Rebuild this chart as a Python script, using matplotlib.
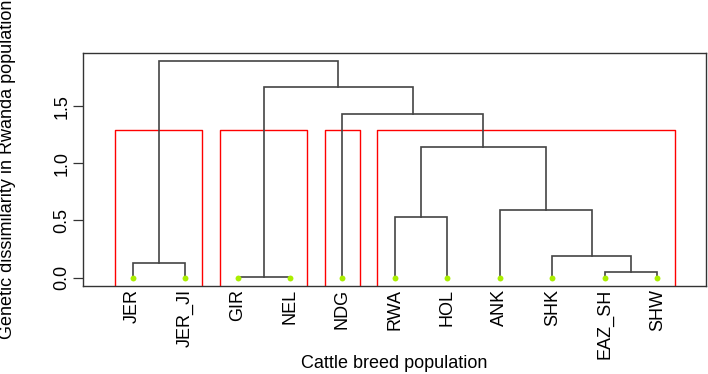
import numpy as np
import matplotlib
matplotlib.use("Agg")
import matplotlib.pyplot as plt

plt.rcParams['font.family'] = ['Liberation Sans', 'DejaVu Sans']

# leaf labels in plotted order
labels = ["JER", "JER_JI", "GIR", "NEL", "NDG", "RWA", "HOL",
          "ANK", "SHK", "EAZ_SH", "SHW"]

# hclust style merges: negative = leaf index (1-based), positive = earlier merge
merge = [(-10, -11), (-3, -4), (-1, -2), (-9, 1), (-6, -7),
         (-8, 4), (5, 6), (-5, 7), (2, 8), (3, 9)]
height = [0.05, 0.003, 0.13, 0.19, 0.53, 0.594, 1.145, 1.434, 1.667, 1.892]

# cluster groups for the red rectangles (leaf ranges, 1-based) and cut height
groups = [(1, 2), (3, 4), (5, 5), (6, 11)]
cut_h = 1.29

fig = plt.figure(figsize=(7.08, 3.74), dpi=100)
ax = fig.add_axes([83 / 708, 1 - 286 / 374, (706 - 83) / 708, (286 - 53) / 374])

line_col = "#444444"
node_x = {}
node_y = {}


def pos(i):
    if i < 0:
        return float(-i), 0.0
    return node_x[i], node_y[i]


for k, (a, b) in enumerate(merge, start=1):
    h = height[k - 1]
    xa, ya = pos(a)
    xb, yb = pos(b)
    ax.plot([xa, xa, xb, xb], [ya, h, h, yb], color=line_col, lw=1.2,
            solid_joinstyle="miter", zorder=2)
    node_x[k] = (xa + xb) / 2
    node_y[k] = h

xs = np.arange(1, len(labels) + 1)
ax.scatter(xs, np.zeros(len(xs)), s=18, marker="o", color="#aaee00",
           zorder=3, linewidths=0)

ymin = -0.073
for g0, g1 in groups:
    ax.plot([g0 - 0.34, g0 - 0.34, g1 + 0.33, g1 + 0.33],
            [ymin, cut_h, cut_h, ymin], color="red", lw=1.0, zorder=1)

ax.set_xlim(0.053, 11.93)
ax.set_ylim(ymin, 1.964)

ax.set_yticks([0.0, 0.5, 1.0, 1.5])
ax.set_yticklabels(["0.0", "0.5", "1.0", "1.5"], rotation=90, va="center",
                   fontsize=13)
ax.tick_params(axis="y", length=7, width=0.9, color="#333333", pad=2)

ax.set_xticks(xs)
ax.set_xticklabels(labels, rotation=90, fontsize=13, va="top")
ax.tick_params(axis="x", length=0, pad=2)

for s in ax.spines.values():
    s.set_color("#333333")
    s.set_linewidth(1.0)

fig.text(394.5 / 708, 1 - 363 / 374, "Cattle breed population", fontsize=13,
         ha="center", va="center")
fig.text(8 / 708, 1 - 169.5 / 374, "Genetic dissimilarity in Rwanda population",
         fontsize=13, rotation=90, ha="center", va="center")

fig.savefig("out.png", dpi=100)
